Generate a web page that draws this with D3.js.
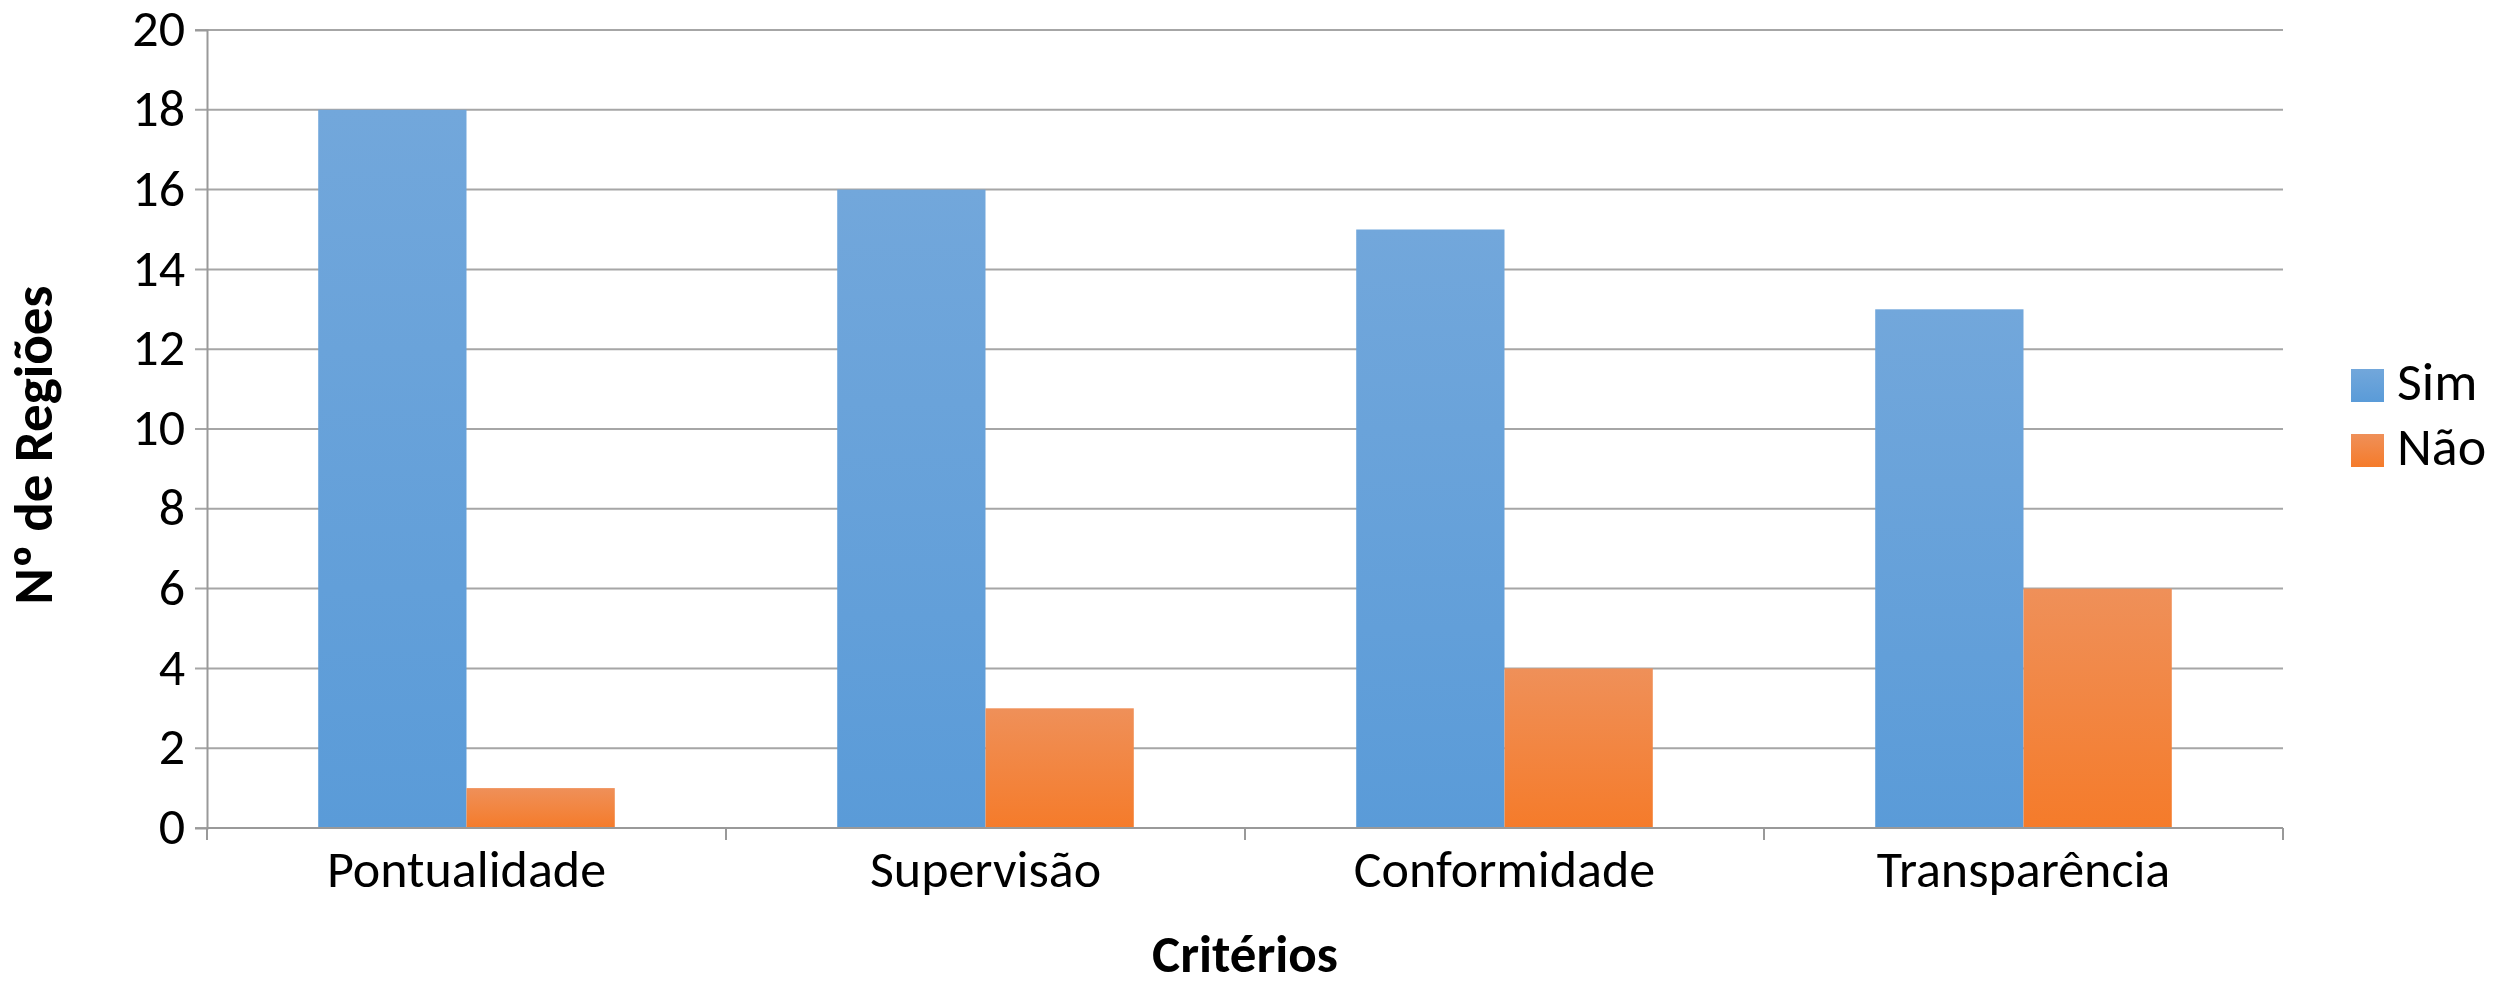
<!DOCTYPE html>
<html>
<head>
<meta charset="utf-8">
<script src="https://cdn.jsdelivr.net/npm/d3@7"></script>
<style>
  body { margin: 0; background: #fff; }
  svg { display: block; font-family: Carlito, Calibri, Lato, sans-serif; }
</style>
</head>
<body>
<svg width="2495" height="989"></svg>
<script>
// Data
const categories = ["Pontualidade", "Supervisão", "Conformidade", "Transparência"];
const seriesNames = ["Sim", "Não"];
const simValues = [18, 16, 15, 13];
const naoValues = [1, 3, 4, 6];
const yTicks = [0, 2, 4, 6, 8, 10, 12, 14, 16, 18, 20];

const svg = d3.select("svg");
const margin = { left: 207, top: 30, right: 2283, bottom: 828 };
const labelSize = 52;

// Gradients like the Excel fill
const defs = svg.append("defs");
const grads = [
    { id: "gSim", top: "#72a7db", bottom: "#5a9bd8" },
    { id: "gNao", top: "#ef9059", bottom: "#f57b2a" }
];
grads.forEach(g => {
    const lg = defs.append("linearGradient")
        .attr("id", g.id)
        .attr("x1", 0).attr("y1", 0).attr("x2", 0).attr("y2", 1);
    lg.append("stop").attr("offset", "0%").attr("stop-color", g.top);
    lg.append("stop").attr("offset", "100%").attr("stop-color", g.bottom);
});

const x = d3.scaleBand()
    .domain(categories)
    .range([margin.left, margin.right]);

// Gap width 150% -> each bar = band / 3.5
const inner = d3.scaleBand()
    .domain(seriesNames)
    .range([0, x.bandwidth()])
    .paddingOuter(0.75)
    .paddingInner(0);

const y = d3.scaleLinear()
    .domain([0, 20])
    .range([margin.bottom, margin.top]);

// Gridlines
svg.append("g")
    .selectAll("line")
    .data(yTicks)
    .join("line")
    .attr("x1", margin.left - 12)
    .attr("x2", margin.right)
    .attr("y1", d => y(d))
    .attr("y2", d => y(d))
    .attr("stroke", "#a6a6a6")
    .attr("stroke-width", 2);

// Y axis
const yAxis = svg.append("g")
    .attr("transform", `translate(${margin.left},0)`)
    .call(d3.axisLeft(y).tickValues(yTicks).tickSize(12).tickPadding(10))
    .attr("font-family", null)
    .attr("font-size", null);
yAxis.select(".domain").attr("stroke", "#999").attr("stroke-width", 2);
yAxis.selectAll(".tick line").remove();
yAxis.selectAll("text")
    .attr("font-size", labelSize)
    .attr("fill", "#000")
    .attr("x", -22)
    .attr("dy", "0.3em");

// Bars
const rows = categories.map((c, i) => ({ cat: c, vals: [simValues[i], naoValues[i]] }));
const groups = svg.append("g")
    .selectAll("g")
    .data(rows)
    .join("g")
    .attr("transform", d => `translate(${x(d.cat)},0)`);

groups.selectAll("rect")
    .data(d => d.vals.map((v, j) => ({ name: seriesNames[j], value: v })))
    .join("rect")
    .attr("x", d => inner(d.name))
    .attr("width", inner.bandwidth())
    .attr("y", d => y(d.value))
    .attr("height", d => y(0) - y(d.value))
    .attr("fill", (d, j) => j === 0 ? "url(#gSim)" : "url(#gNao)");

// X axis
const xAxis = svg.append("g")
    .attr("transform", `translate(0,${margin.bottom})`)
    .call(d3.axisBottom(x).tickSize(0).tickPadding(22))
    .attr("font-family", null)
    .attr("font-size", null);
xAxis.select(".domain").remove();
xAxis.append("line")
    .attr("x1", margin.left).attr("x2", margin.right)
    .attr("stroke", "#999").attr("stroke-width", 2);
xAxis.selectAll(".sep")
    .data(d3.range(categories.length + 1))
    .join("line")
    .attr("class", "sep")
    .attr("x1", i => margin.left + i * x.bandwidth())
    .attr("x2", i => margin.left + i * x.bandwidth())
    .attr("y1", 0).attr("y2", 12)
    .attr("stroke", "#999").attr("stroke-width", 2);
xAxis.selectAll("text")
    .attr("font-size", labelSize)
    .attr("fill", "#000");

// Axis titles
svg.append("text")
    .attr("x", (margin.left + margin.right) / 2)
    .attr("y", 972)
    .attr("text-anchor", "middle")
    .attr("font-size", 53)
    .attr("font-weight", "bold")
    .text("Critérios");

svg.append("text")
    .attr("transform", "translate(52,445) rotate(-90)")
    .attr("text-anchor", "middle")
    .attr("font-size", 55)
    .attr("font-weight", "bold")
    .text("Nº de Regiões");

// Legend
const legend = svg.append("g")
    .attr("transform", "translate(2351,369)");
const item = legend.selectAll("g")
    .data(seriesNames)
    .join("g")
    .attr("transform", (d, i) => `translate(0,${i * 65})`);
item.append("rect")
    .attr("width", 33).attr("height", 33)
    .attr("fill", (d, i) => i === 0 ? "url(#gSim)" : "url(#gNao)");
item.append("text")
    .attr("x", 46)
    .attr("y", 31)
    .attr("font-size", 54)
    .text(d => d);
</script>
</body>
</html>
